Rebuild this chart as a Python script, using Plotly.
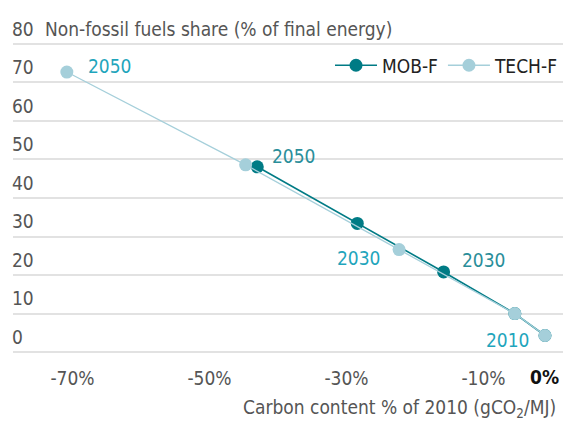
import plotly.graph_objects as go

# ---- data ----
years = [2010, 2020, 2030, 2040, 2050]
mob_x = [0.0, -4.4, -14.8, -27.4, -42.0]
mob_y = [4.3, 10.0, 20.8, 33.4, 48.1]
tech_x = [0.0, -4.4, -21.3, -43.7, -69.8]
tech_y = [4.3, 10.0, 26.6, 48.6, 72.7]
x_tickvals = [-70, -50, -30, -10]
x_ticktext = ["-70%", "-50%", "-30%", "-10%"]
y_tickvals = [0, 10, 20, 30, 40, 50, 60, 70, 80]

FONT = "Liberation Sans Narrow, Arial Narrow, DejaVu Sans Condensed, sans-serif"
MOB_C = "#007b85"
TECH_C = "#a5cfda"
MOB_T = "#2a8e9a"
TECH_T = "#1fa5bc"

fig = go.Figure()
fig.add_trace(go.Scatter(x=mob_x, y=mob_y, name="MOB-F", mode="lines+markers",
                         line=dict(color=MOB_C, width=1.6),
                         marker=dict(color=MOB_C, size=13)))
fig.add_trace(go.Scatter(x=tech_x, y=tech_y, name="TECH-F", mode="lines+markers",
                         line=dict(color=TECH_C, width=1.3),
                         marker=dict(color=TECH_C, size=13)))

# year labels: (series x, series y, index, color, xanchor, xshift, yshift)
label_specs = [
    (tech_x, tech_y, 4, TECH_T, "left", 19, 6),
    (mob_x, mob_y, 4, MOB_T, "left", 13, 11),
    (tech_x, tech_y, 2, TECH_T, "right", -16, -8),
    (mob_x, mob_y, 2, MOB_T, "left", 16, 12),
    (tech_x, tech_y, 0, TECH_T, "right", -13, -4),
]
for sx, sy, i, col, xa, xs, ys in label_specs:
    fig.add_annotation(x=sx[i], y=sy[i], text=str(years[i]), showarrow=False,
                       xanchor=xa, yanchor="middle", xshift=xs, yshift=ys,
                       font=dict(family=FONT, size=19, color=col))

# axis titles / special labels
fig.add_annotation(xref="paper", yref="y", x=0.055, y=80, yshift=15,
                   text="Non-fossil fuels share (% of final energy)", showarrow=False,
                   xanchor="left", yanchor="middle",
                   font=dict(family=FONT, size=19, color="#555555"))
fig.add_annotation(xref="x", yref="y", x=0, y=0, yshift=-25,
                   text="<b>0%</b>", showarrow=False, xanchor="center", yanchor="middle",
                   font=dict(family=FONT, size=19, color="#111111"))
fig.add_annotation(xref="paper", yref="y", x=1.0, y=0, yshift=-56, xshift=-5,
                   text="Carbon content % of 2010 (gCO<sub>2</sub>/MJ)", showarrow=False,
                   xanchor="right", yanchor="middle",
                   font=dict(family=FONT, size=19, color="#555555"))

fig.update_layout(
    width=563, height=435, autosize=False,
    margin=dict(l=13, r=0, t=42, b=81),
    paper_bgcolor="white", plot_bgcolor="white",
    font=dict(family=FONT, size=19, color="#555555"),
    showlegend=True,
    legend=dict(orientation="h", x=1.0, xanchor="right", y=0.925, yanchor="middle",
                font=dict(family=FONT, size=19, color="#222222"),
                itemwidth=42, bgcolor="rgba(0,0,0,0)"),
    xaxis=dict(range=[-77.66, 2.63], tickvals=x_tickvals, ticktext=x_ticktext,
               showgrid=False, zeroline=False, showline=False, ticks="",
               ticklabelshift=7, ticklabelstandoff=11,
               tickfont=dict(family=FONT, size=19, color="#555555")),
    yaxis=dict(range=[-0.5, 80.5], tickvals=y_tickvals, showgrid=True,
               gridcolor="#e2e2e2", gridwidth=1.5, zeroline=False, showline=False,
               ticks="", ticklabelposition="inside", ticklabelshift=-15,
               ticklabelstandoff=-4, ticklabeloverflow="allow",
               tickfont=dict(family=FONT, size=19, color="#555555")),
)

fig.write_html("out.html", config={"displayModeBar": False},
               post_script="document.body.style.margin='0px';")
